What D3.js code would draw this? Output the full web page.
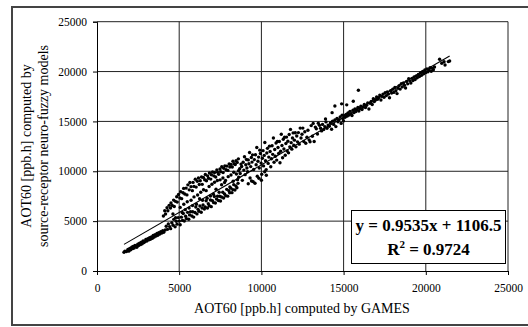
<!DOCTYPE html>
<html>
<head>
<meta charset="utf-8">
<script src="https://cdn.jsdelivr.net/npm/d3@7"></script>
<style>
  body { margin: 0; background: #fff; }
  svg { display: block; }
  text { font-family: "Liberation Serif", "Times New Roman", serif; fill: #000; }
</style>
</head>
<body>
<svg id="chart"></svg>
<script>
const WIDTH = 528;
const HEIGHT = 327;

// axis ticks
const xTicks = [0, 5000, 10000, 15000, 20000, 25000];
const yTicks = [0, 5000, 10000, 15000, 20000, 25000];

// trendline from the chart
const slope = 0.9535;
const intercept = 1106.5;
const r2 = 0.9724;

// points, [GAMES, neuro-fuzzy], grouped by region
const tailPoints = [
    [1642, 1880], [1700, 1990], [1790, 1960], [1880, 2150], [1930, 1990], [1990, 2260],
    [2050, 2130], [2110, 2380], [2160, 2240], [2200, 2450], [2260, 2310], [2310, 2560],
    [2370, 2470], [2420, 2380], [2480, 2690], [2530, 2560], [2590, 2800], [2640, 2640],
    [2700, 2890], [2750, 2730], [2810, 3010], [2860, 2850], [2920, 2950], [2970, 3170],
    [3030, 3000], [3090, 3250], [3140, 3120], [3200, 3330], [3250, 3190], [3310, 3420],
    [3370, 3280], [3420, 3560], [3480, 3400], [3530, 3650], [3590, 3500], [3650, 3760],
    [3700, 3580], [3760, 3850], [3820, 3700], [3880, 3940], [3940, 3810], [4000, 4040],
    [4060, 3890]
];

const upperBand = [
    [4040, 5518], [4120, 6045], [4170, 5723], [4260, 6338], [4310, 6036], [4390, 6582],
    [4470, 6319], [4500, 6817], [4580, 6573], [4660, 7110], [4700, 6468], [4770, 6985],
    [4850, 7441], [4880, 6910], [4960, 7676], [5040, 7332], [5090, 7950], [5150, 7257],
    [5230, 7853], [5270, 8281], [5340, 7718], [5420, 8315], [5470, 7632], [5530, 8639],
    [5610, 8136], [5650, 8874], [5720, 8461], [5800, 8057], [5840, 8885], [5900, 8482],
    [5980, 9208], [6030, 8416], [6100, 8993], [6170, 9320], [6220, 8677], [6280, 9045],
    [6360, 9431], [6400, 8689], [6470, 9386], [6550, 9152], [6590, 9680], [6660, 9047],
    [6730, 9544], [6780, 9301], [6840, 9829], [6920, 9215], [6960, 9653], [7030, 9940],
    [7110, 9536], [7150, 9884], [7220, 9431], [7290, 10137], [7340, 9895], [7400, 9692],
    [7480, 10229], [7520, 9957], [7590, 10454], [7670, 9870], [7710, 10298], [7780, 10545],
    [7850, 10162], [7900, 10519], [7960, 10086], [8040, 10733], [8080, 10431], [8150, 10688],
    [8230, 10434], [8270, 11002], [8340, 10759], [8410, 10686], [8460, 11063], [8530, 10890],
    [8600, 11247]
];

const lowerBand = [
    [4150, 4114], [4210, 4481], [4290, 4177], [4340, 4725], [4420, 4451], [4480, 4248],
    [4550, 4835], [4630, 4581], [4670, 5179], [4750, 4426], [4820, 4982], [4870, 4700],
    [4940, 5357], [5010, 5003], [5060, 4641], [5130, 5398], [5200, 5075], [5250, 5772],
    [5310, 5020], [5390, 5486], [5440, 5254], [5510, 5880], [5580, 5197], [5630, 5625],
    [5690, 5942], [5770, 5508], [5820, 5936], [5880, 5403], [5960, 5859], [6010, 6417],
    [6080, 5724], [6150, 6181], [6200, 5998], [6260, 6525], [6340, 5892], [6390, 6319],
    [6450, 6616], [6530, 6213], [6580, 6420], [6640, 7048], [6720, 6314], [6770, 6742],
    [6830, 6549], [6900, 7116], [6950, 6453], [7020, 7060], [7090, 6857], [7140, 7465],
    [7200, 6812], [7270, 7208], [7330, 7496], [7390, 7063], [7460, 7500], [7510, 7027],
    [7570, 7424], [7650, 7891], [7700, 7319], [7760, 7716], [7830, 7553], [7890, 8190],
    [7950, 7507], [8020, 8054], [8070, 7841], [8140, 8308], [8210, 7855], [8260, 8163],
    [8320, 8660], [8390, 8116], [8450, 8524], [8510, 8351], [8580, 8788]
];

const nearLine = [
    [4620, 5720], [4780, 5350], [5060, 6380], [5180, 5870], [5280, 6700], [5370, 6150],
    [5490, 6950], [5600, 6310], [5720, 7100], [5810, 6560], [5900, 7430], [6050, 6700],
    [6120, 7620], [6240, 7250], [6310, 7900], [6420, 7090], [6480, 8150], [6640, 8060],
    [6700, 7300], [6820, 8480], [6900, 7520], [6990, 8700], [7080, 7690], [7150, 8900],
    [7240, 8200], [7320, 9070], [7430, 7900], [7490, 9140], [7580, 8650], [7660, 9330],
    [7760, 8880], [7820, 9080], [7980, 9460], [8080, 8420], [8150, 9620], [8280, 9000],
    [8320, 9900], [8480, 9720], [8550, 9150], [8610, 10050]
];

const densePoints = [
    [8620, 9410], [8680, 10260], [8710, 9780], [8760, 10720], [8800, 10480], [8840, 9090],
    [8890, 10900], [8930, 10120], [8970, 11460], [9010, 9660], [9050, 10650], [9090, 11180],
    [9120, 10330], [9160, 9950], [9200, 11140], [9240, 10760], [9280, 11890], [9310, 9320],
    [9350, 10470], [9390, 11380], [9430, 10920], [9460, 11650], [9500, 8960], [9530, 10180],
    [9570, 11170], [9610, 8800], [9640, 11660], [9680, 10650], [9720, 12380], [9750, 9500],
    [9790, 11000], [9830, 11420], [9870, 10330], [9900, 12120], [9940, 11780], [9980, 10820],
    [10020, 9700], [10060, 11300], [10100, 12070], [10130, 10540], [10170, 11590], [10210, 12890],
    [10250, 11050], [10290, 10170], [10330, 11840], [10370, 12300], [10410, 10790], [10450, 11420],
    [10490, 12520], [10530, 11980], [10570, 10450], [10610, 11260], [10650, 12560], [10690, 11700],
    [10730, 13340], [10770, 10900], [10810, 12180], [10850, 11510], [10890, 12830], [10930, 11120],
    [10970, 12990], [11010, 12380], [11050, 11780], [11090, 12990], [11130, 10850], [11170, 12010],
    [11210, 13720], [11250, 12590], [11290, 11360], [11330, 13210], [11370, 12240], [11410, 13410],
    [11450, 11600], [11490, 12790], [11530, 13430], [11570, 12040], [11610, 13010], [11650, 11850],
    [11690, 13690], [11730, 12450], [11770, 14200], [11810, 12870], [11850, 12220], [11890, 13330],
    [11930, 13850], [11970, 12610], [12010, 13120], [12060, 13860], [12100, 12450], [12150, 13540],
    [12200, 12950], [12250, 13880], [12300, 12720], [12360, 14330], [12410, 13330], [12470, 13720],
    [9200, 8750], [9400, 9020], [9850, 9300], [10000, 9100], [10300, 9600], [10200, 9950]
];

const upperMid = [
    [12520, 14330], [12580, 12980], [12640, 13960], [12700, 12810], [12770, 13420], [12830, 14120],
    [12900, 13150], [12960, 12960], [13030, 14580], [13100, 13510], [13150, 14800], [13210, 12990],
    [13280, 14430], [13340, 14260], [13410, 13740], [13460, 14820], [13530, 14610], [13600, 14320],
    [13660, 14050], [13720, 14700], [13790, 14190], [13860, 14480], [13930, 14950], [13990, 14310],
    [14060, 14630], [14130, 14520], [14200, 14840], [14270, 14210], [14330, 15020], [14400, 14700],
    [14470, 15150], [14530, 14480], [14600, 15300], [14660, 14960], [14720, 15180], [14790, 15450],
    [14850, 14800], [14910, 15620], [14960, 15270], [14990, 15050], [14470, 16550], [14880, 16760],
    [15190, 16660], [14300, 15880], [13900, 15250]
];

const upperTight = [
    [15040, 15580], [15090, 15420], [15150, 15710], [15210, 15530], [15270, 15860], [15330, 15650],
    [15390, 16010], [15450, 15760], [15510, 15590], [15570, 16120], [15630, 15880], [15690, 16250],
    [15750, 15990], [15810, 16180], [15870, 16390], [15930, 16050], [15990, 16300], [16050, 16520],
    [16120, 16200], [16190, 16440], [16260, 16690], [16330, 16400], [16400, 16610], [16470, 16850],
    [16540, 16250], [15590, 17030], [15900, 18120]
];

const topPoints = [
    [16610, 16820], [16680, 17010], [16740, 16700], [16810, 17280], [16870, 16990], [16940, 17150],
    [17010, 17460], [17070, 17230], [17140, 17390], [17200, 17640], [17270, 17150], [17330, 17510],
    [17400, 17740], [17460, 17420], [17530, 17880], [17600, 17590], [17660, 17960], [17730, 17750],
    [17790, 17370], [17860, 18080], [17920, 17850], [17990, 18230], [18050, 17910], [18120, 18400],
    [18180, 18070], [18250, 17790], [18310, 18330], [18380, 18590], [18440, 18240], [18510, 18780],
    [18570, 18460], [18640, 18860], [18700, 18620], [18770, 18350], [18830, 19010], [18900, 18770],
    [18960, 19280], [19030, 19070], [19090, 18850], [19160, 19320], [19220, 19110], [19290, 19450],
    [19350, 19200], [19420, 19560], [19480, 19380], [19550, 19700], [19610, 19500], [19680, 19880],
    [19740, 19620], [19810, 20010], [19870, 19780], [19940, 20150], [20000, 19900], [20070, 20250],
    [20130, 19980], [20200, 20160], [20260, 20380], [20330, 20020], [20390, 20320], [20460, 20180],
    [20530, 20460], [20840, 21230], [20970, 20830], [21110, 20990], [21170, 20660], [21370, 21000],
    [21450, 21060]
];

const points = [].concat(tailPoints, upperBand, lowerBand, nearLine, densePoints,
    upperMid, upperTight, topPoints);

const svg = d3.select("#chart")
    .attr("width", WIDTH)
    .attr("height", HEIGHT);

// outer chart frame (right edge falls off the picture)
svg.append("rect")
    .attr("x", 12).attr("y", 7)
    .attr("width", 530).attr("height", 318)
    .attr("fill", "none")
    .attr("stroke", "#444")
    .attr("stroke-width", 2);

const x = d3.scaleLinear().domain([0, 25000]).range([97, 508]);
const y = d3.scaleLinear().domain([0, 25000]).range([271, 21.7]);

// gridlines
svg.append("g")
    .selectAll("line")
    .data(yTicks.slice(1))
    .join("line")
    .attr("x1", x(0)).attr("x2", x(25000))
    .attr("y1", d => y(d)).attr("y2", d => y(d))
    .attr("stroke", "#222");

svg.append("g")
    .selectAll("line")
    .data(xTicks.slice(1))
    .join("line")
    .attr("x1", d => x(d)).attr("x2", d => x(d))
    .attr("y1", y(0)).attr("y2", y(25000))
    .attr("stroke", "#222");

// axes
const xAxis = d3.axisBottom(x).tickValues(xTicks).tickSize(4).tickPadding(9).tickFormat(d3.format("d"));
const yAxis = d3.axisLeft(y).tickValues(yTicks).tickSize(4).tickPadding(6).tickFormat(d3.format("d"));

const gx = svg.append("g").attr("transform", `translate(0,${y(0)})`).call(xAxis);
const gy = svg.append("g").attr("transform", `translate(${x(0)},0)`).call(yAxis);

[gx, gy].forEach(g => {
    g.select(".domain").attr("stroke", "#000");
    g.selectAll(".tick line").attr("stroke", "#000");
    g.selectAll(".tick text")
        .attr("font-family", "Liberation Serif, Times New Roman, serif")
        .attr("font-size", 11.5)
        .attr("fill", "#000");
});

// points
svg.append("g")
    .selectAll("circle")
    .data(points)
    .join("circle")
    .attr("cx", d => x(d[0]))
    .attr("cy", d => y(d[1]))
    .attr("r", 1.7)
    .attr("fill", "#000");

// linear trendline over the data range
const [xMin, xMax] = d3.extent(points, d => d[0]);
svg.append("line")
    .attr("x1", x(xMin)).attr("y1", y(slope * xMin + intercept))
    .attr("x2", x(xMax)).attr("y2", y(slope * xMax + intercept))
    .attr("stroke", "#000")
    .attr("stroke-width", 1.1);

// equation box
const box = svg.append("g");
box.append("rect")
    .attr("x", 351.5).attr("y", 210.5)
    .attr("width", 154).attr("height", 53)
    .attr("fill", "#fff")
    .attr("stroke", "#000");

box.append("text")
    .attr("x", 428.5).attr("y", 231)
    .attr("text-anchor", "middle")
    .attr("font-size", 17)
    .attr("font-weight", "bold")
    .text(`y = ${slope}x + ${intercept}`);

const r2Text = box.append("text")
    .attr("x", 428.5).attr("y", 255)
    .attr("text-anchor", "middle")
    .attr("font-size", 17)
    .attr("font-weight", "bold");
r2Text.append("tspan").text("R");
r2Text.append("tspan").attr("font-size", 11).attr("dy", -7).text("2");
r2Text.append("tspan").attr("dy", 7).text(` = ${r2}`);

// axis titles
svg.append("text")
    .attr("x", 302).attr("y", 313)
    .attr("text-anchor", "middle")
    .attr("font-size", 14)
    .text("AOT60 [ppb.h] computed by GAMES");

const yTitle = svg.append("text")
    .attr("transform", "translate(31,146) rotate(-90)")
    .attr("text-anchor", "middle")
    .attr("font-size", 14);
yTitle.append("tspan").attr("x", 0).attr("dy", 0).text("AOT60 [ppb.h] computed by");
yTitle.append("tspan").attr("x", 0).attr("dy", 17).text("source-receptor neuro-fuzzy models");
</script>
</body>
</html>
